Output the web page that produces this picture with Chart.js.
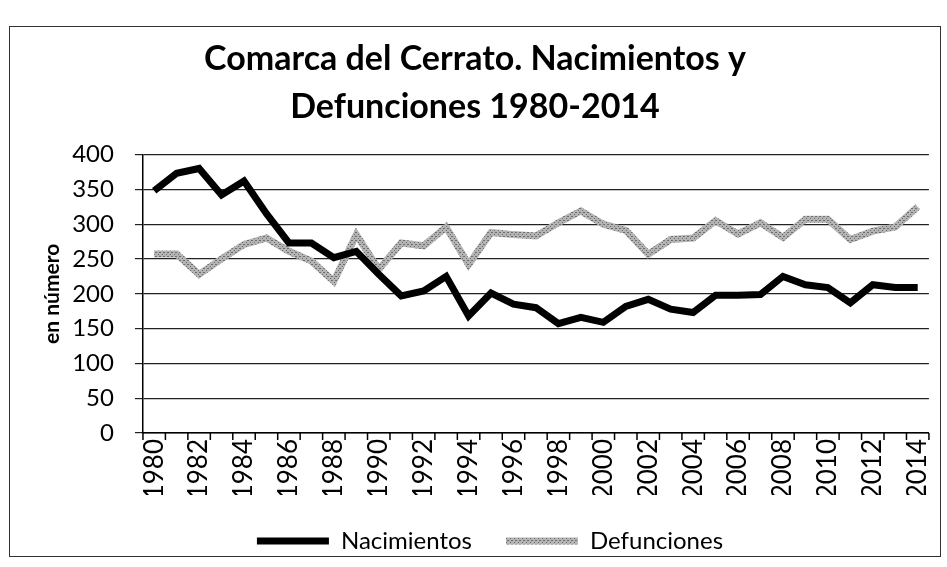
<!DOCTYPE html>
<html>
<head>
<meta charset="utf-8">
<script src="https://cdn.jsdelivr.net/npm/chart.js@4"></script>
<style>
  body { margin: 0; background: #fff; }
  #grafico { position: absolute; left: 0; top: 0; display: block; }
  #marco {
    position: absolute; left: 9px; top: 26px;
    width: 932px; height: 531px;
    border: 1px solid #333; box-sizing: border-box;
    pointer-events: none;
  }
</style>
</head>
<body>
<canvas id="grafico" width="947" height="567"></canvas>
<div id="marco"></div>
<script>
// Datos
const anios = [];
for (let a = 1980; a <= 2014; a++) anios.push(String(a));

const nacimientos = [348, 373, 380, 342, 362, 315, 273, 273, 252, 261, 228, 197,
  204, 225, 168, 201, 185, 180, 157, 166, 159, 182, 192,
  178, 173, 198, 198, 199, 225, 213, 209, 187, 213, 209, 209];

const defunciones = [257, 257, 228, 250, 271, 280, 261, 247, 218, 285, 235, 273,
  269, 296, 242, 288, 285, 283, 302, 319, 300, 291, 257,
  278, 280, 305, 286, 302, 281, 307, 307, 278, 290, 296, 325];

const ticksY = [0, 50, 100, 150, 200, 250, 300, 350, 400];

const fuente = "Lato, 'Open Sans', sans-serif";

// trama punteada gris (como la línea fotocopiada)
function trama() {
  const c = document.createElement('canvas');
  c.width = 4; c.height = 4;
  const g = c.getContext('2d');
  g.fillStyle = '#b4b4b4';
  g.fillRect(0, 0, 4, 4);
  g.fillStyle = '#6e6e6e';
  g.fillRect(0, 0, 1, 1);
  g.fillRect(2, 2, 1, 1);
  g.fillRect(3, 0, 1, 1);
  return g.createPattern(c, 'repeat');
}

const ctx = document.getElementById('grafico').getContext('2d');
const grisTrama = trama();

const chart = new Chart(ctx, {
  type: 'line',
  data: {
    labels: anios,
    datasets: [{
      label: 'Nacimientos',
      data: nacimientos,
      borderColor: '#000',
      backgroundColor: '#000',
      borderWidth: 7,
      pointRadius: 0,
      tension: 0
    }, {
      label: 'Defunciones',
      data: defunciones,
      borderColor: grisTrama,
      backgroundColor: grisTrama,
      borderWidth: 7,
      pointRadius: 0,
      tension: 0
    }]
  },
  options: {
    responsive: false,
    animation: false,
    layout: { padding: { left: 10, right: 7, top: 30, bottom: 4 } },
    plugins: {
      title: {
        display: true,
        text: ['Comarca del Cerrato. Nacimientos y', 'Defunciones 1980-2014'],
        color: '#000',
        font: { family: fuente, size: 34, weight: 'bold', lineHeight: 1.42 },
        padding: { top: 5, bottom: 23 }
      },
      legend: {
        position: 'bottom',
        labels: {
          color: '#000',
          usePointStyle: true,
          pointStyle: 'line',
          pointStyleWidth: 72,
          padding: 34,
          font: { family: fuente, size: 24 }
        }
      },
      tooltip: { enabled: false }
    },
    scales: {
      x: {
        offset: true,
        grid: { display: false, drawOnChartArea: false, offset: true },
        border: { color: '#000', width: 1.5 },
        afterFit: axis => { axis.height = 62; },
        ticks: {
          autoSkip: false,
          minRotation: 90,
          maxRotation: 90,
          color: '#000',
          padding: -2,
          font: { family: fuente, size: 26 },
          callback: function (v, i) { return i % 2 === 0 ? anios[i] : ''; }
        }
      },
      y: {
        min: 0,
        max: 400,
        afterBuildTicks: axis => { axis.ticks = ticksY.map(v => ({ value: v })); },
        grid: { color: '#222', lineWidth: 1.2, tickLength: 8 },
        border: { color: '#000', width: 1.5 },
        ticks: {
          color: '#000',
          padding: 21,
          font: { family: fuente, size: 24 }
        },
        title: {
          display: true,
          text: 'en número',
          color: '#000',
          font: { family: fuente, size: 21, weight: 'bold' },
          padding: { top: 30, bottom: -14 }
        }
      }
    }
  },
  plugins: [{
    // leyenda algo desplazada a la derecha, como en el original
    id: 'leyendaDerecha',
    afterLayout(c) { c.legend.left += 30; }
  }, {
    // marcas de graduación del eje x entre categorías
    id: 'marcasX',
    afterDraw(c) {
      const xs = c.scales.x, ys = c.scales.y;
      const g = c.ctx;
      g.save();
      g.strokeStyle = '#000';
      g.lineWidth = 1.5;
      const paso = (xs.right - xs.left) / anios.length;
      for (let i = 0; i <= anios.length; i++) {
        const x = xs.left + i * paso;
        g.beginPath();
        g.moveTo(x, ys.bottom);
        g.lineTo(x, ys.bottom + 7);
        g.stroke();
      }
      g.restore();
    }
  }]
});
</script>
</body>
</html>
